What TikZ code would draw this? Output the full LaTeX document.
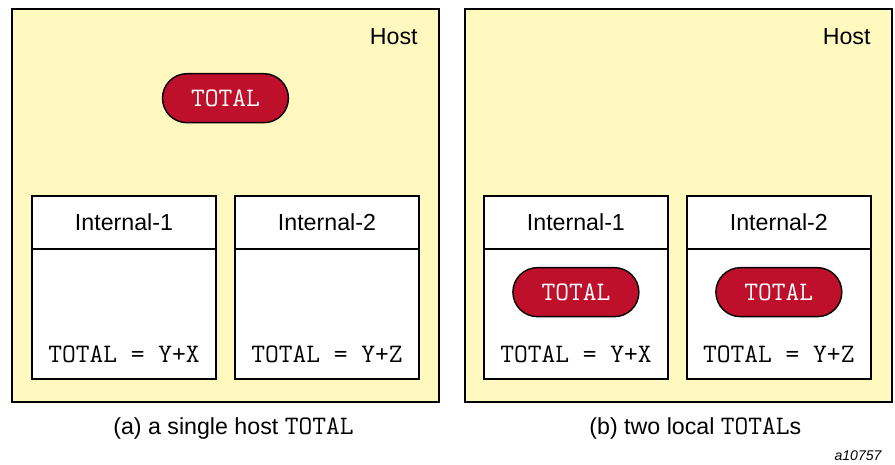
\documentclass[tikz,border=0pt]{standalone}
\usepackage{fontspec}
\setmainfont{Liberation Sans}
\usetikzlibrary{positioning,shapes.misc,calc}
\definecolor{hostgelb}{RGB}{255,249,192}
\definecolor{pillerot}{RGB}{190,16,42}
\newcommand{\monofont}{\ttfamily\fontsize{15.2}{17}\selectfont}
\tikzset{
    %Define style for host boxes
    hostboks/.style={
           rectangle,
           draw=black, line width=1.1pt,
           fill=hostgelb,
           minimum width=8.54cm,
           minimum height=7.86cm,
           inner sep=0pt, outer sep=0pt},
    %Define style for header and body of internal boxes
    kopf/.style={
           rectangle,
           draw=black, line width=0.8pt,
           fill=white,
           minimum width=3.68cm,
           minimum height=1.06cm,
           inner sep=0pt, outer sep=0pt,
           font=\fontsize{13.2}{15}\selectfont},
    kropp/.style={
           kopf,
           minimum height=2.6cm},
    %Define style for the red pills
    pille/.style={
           rounded rectangle,
           draw=black, line width=0.8pt,
           fill=pillerot, text=white,
           minimum width=2.52cm,
           minimum height=0.98cm,
           inner sep=0pt,
           font=\monofont},
    % Define text styles
    formel/.style={
           inner sep=0pt,
           font=\monofont},
    hosttekst/.style={
           inner sep=0pt,
           font=\fontsize{13.2}{15}\selectfont},
    undertekst/.style={
           anchor=base, inner sep=0pt,
           font=\fontsize{13.2}{15}\selectfont},
}
\begin{document}
\begin{tikzpicture}[x=0.02cm, y=-0.02cm]
 \useasboundingbox (0,0) rectangle (895,464);
 % (a) a single host TOTAL
 \node[hostboks, anchor=north west] (hostA) at (12,9) {};
 \node[hosttekst, below left=0.38cm and 0.42cm of hostA.north east] (hostAnavn) {Host};
 \node[pille, below=1.28cm of hostA.north] (hostApille) {TOTAL};
 \node[kopf, below right=3.74cm and 0.4cm of hostA.north west] (a1kopf) {Internal-1};
 \node[kropp, below=0pt of a1kopf] (a1kropp) {};
 \node[formel, above=0.32cm of a1kropp.south] (a1formel) {TOTAL = Y+X};
 \node[kopf, right=0.38cm of a1kopf] (a2kopf) {Internal-2};
 \node[kropp, below=0pt of a2kopf] (a2kropp) {};
 \node[formel, above=0.32cm of a2kropp.south] (a2formel) {TOTAL = Y+Z};
 \node[undertekst] (capA) at ($(hostA.south)+(8,33)$) {(a) a single host {\monofont TOTAL}};
 % (b) two local TOTALs
 \node[hostboks, right=0.52cm of hostA] (hostB) {};
 \node[hosttekst, below left=0.38cm and 0.42cm of hostB.north east] (hostBnavn) {Host};
 \node[kopf, below right=3.74cm and 0.38cm of hostB.north west] (b1kopf) {Internal-1};
 \node[kropp, below=0pt of b1kopf] (b1kropp) {};
 \node[pille, below=0.36cm of b1kropp.north] (b1pille) {TOTAL};
 \node[formel, above=0.32cm of b1kropp.south] (b1formel) {TOTAL = Y+X};
 \node[kopf, right=0.38cm of b1kopf] (b2kopf) {Internal-2};
 \node[kropp, below=0pt of b2kopf] (b2kropp) {};
 \node[pille, below=0.36cm of b2kropp.north] (b2pille) {TOTAL};
 \node[formel, above=0.32cm of b2kropp.south] (b2formel) {TOTAL = Y+Z};
 \node[undertekst] (capB) at ($(hostB.south)+(17,33)$) {(b) two local {\monofont TOTAL}s};
 \node[undertekst, anchor=base east, font=\itshape\fontsize{8}{10}\selectfont] (figid) at ($(hostB.south east)+(-10,59)$) {a10757};
\end{tikzpicture}
\end{document}
